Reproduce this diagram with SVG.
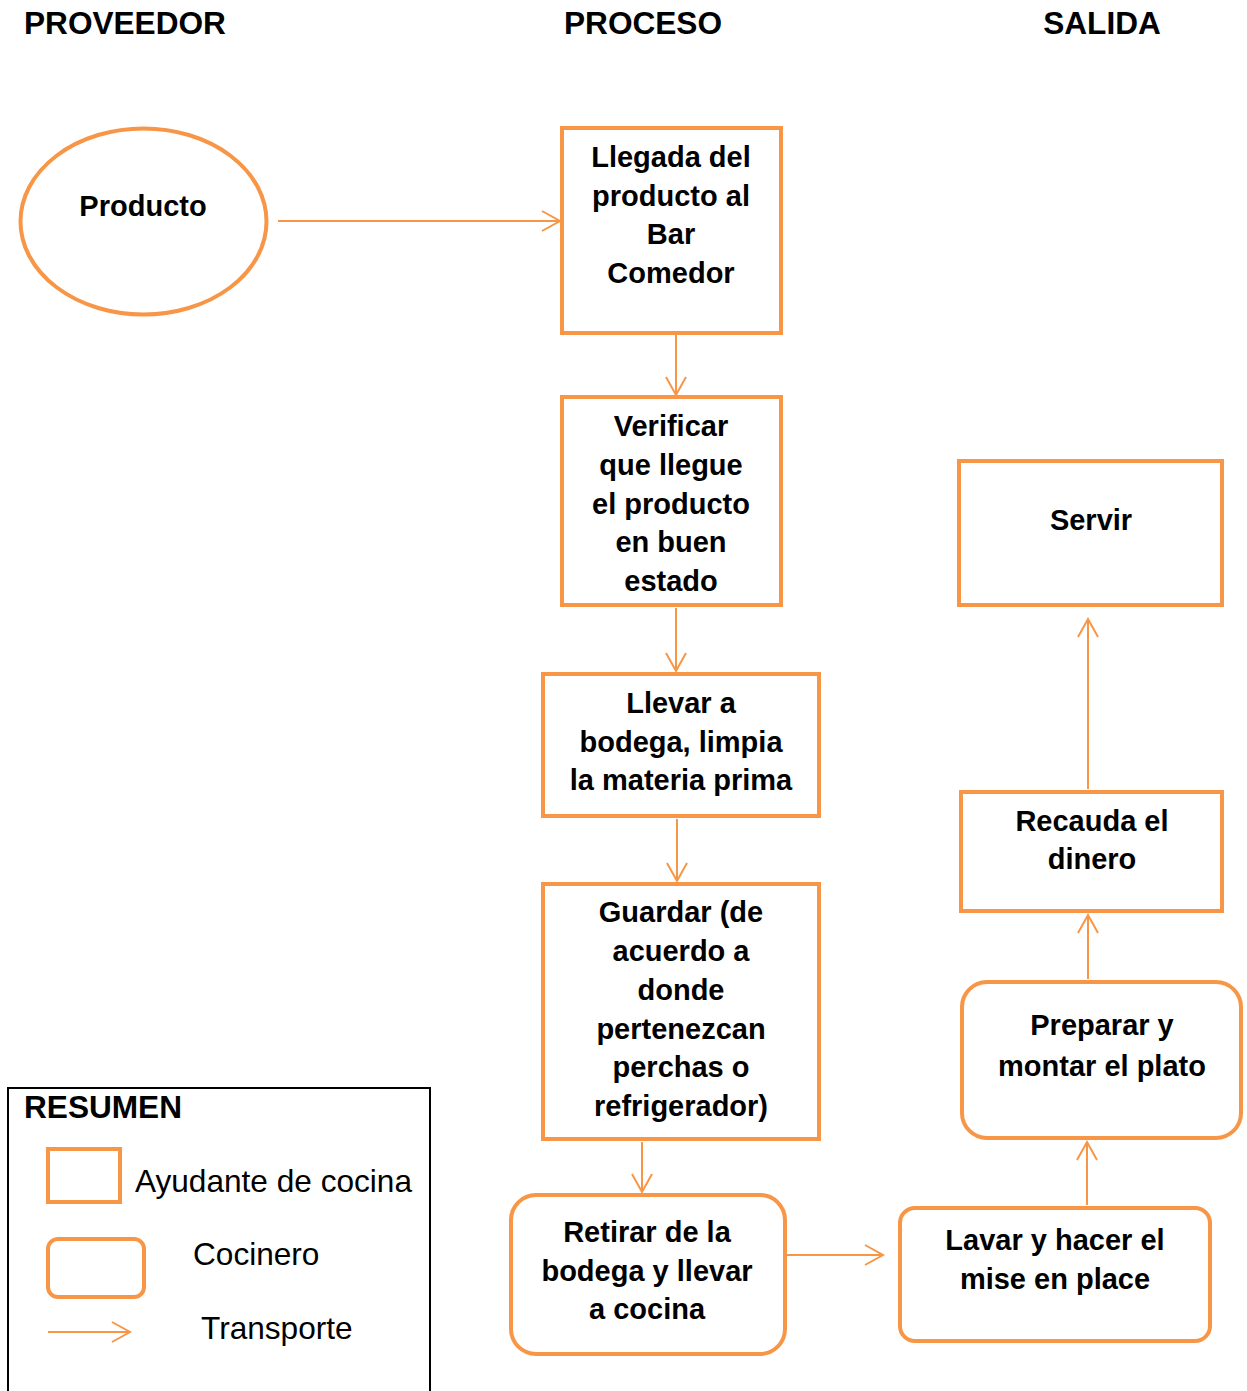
<svg xmlns="http://www.w3.org/2000/svg" width="1247" height="1391" viewBox="0 0 1247 1391">
<defs>
<marker id="arr" markerUnits="userSpaceOnUse" viewBox="-22 -12 24 24" markerWidth="24" markerHeight="24" refX="0" refY="0" orient="auto" overflow="visible">
<path d="M-18,-10 L0,0 L-18,10" fill="none" stroke="#F79646" stroke-width="2"/>
</marker>
</defs>
<style>
.n{fill:#fff;stroke:#F79646;stroke-width:4}
.t{font-family:"Liberation Sans",Arial,sans-serif;font-weight:bold;font-size:29px;fill:#000;text-anchor:middle}
.h{font-family:"Liberation Sans",Arial,sans-serif;font-weight:bold;font-size:31.6px;fill:#000}
.r{font-family:"Liberation Sans",Arial,sans-serif;font-size:31.6px;fill:#000}
.c{fill:none;stroke:#F79646;stroke-width:2;marker-end:url(#arr)}
</style>
<rect width="1247" height="1391" fill="#fff"/>
<g id="headers">
<text class="h" x="24" y="34">PROVEEDOR</text>
<text class="h" x="643" y="34" text-anchor="middle">PROCESO</text>
<text class="h" x="1102" y="34" text-anchor="middle">SALIDA</text>
</g>
<g id="connectors">
<line class="c" x1="278" y1="221" x2="560" y2="221"/>
<line class="c" x1="676" y1="335" x2="676" y2="395"/>
<line class="c" x1="676" y1="608" x2="676" y2="671"/>
<line class="c" x1="677" y1="819" x2="677" y2="881"/>
<line class="c" x1="642" y1="1142" x2="642" y2="1192"/>
<line class="c" x1="787" y1="1255" x2="883" y2="1255"/>
<line class="c" x1="1087" y1="1205" x2="1087" y2="1142"/>
<line class="c" x1="1088" y1="979" x2="1088" y2="915"/>
<line class="c" x1="1088" y1="789" x2="1088" y2="619"/>
</g>
<g id="producto">
<ellipse class="n" cx="143.5" cy="221.5" rx="123" ry="93"/>
<text class="t" x="143" y="216">Producto</text>
</g>
<g id="llegada">
<rect class="n" x="562" y="128" width="219" height="205"/>
<text class="t" x="671" y="167">Llegada del</text>
<text class="t" x="671" y="206">producto al</text>
<text class="t" x="671" y="244">Bar</text>
<text class="t" x="671" y="283">Comedor</text>
</g>
<g id="verificar">
<rect class="n" x="562" y="397" width="219" height="208"/>
<text class="t" x="671" y="436">Verificar</text>
<text class="t" x="671" y="475">que llegue</text>
<text class="t" x="671" y="514">el producto</text>
<text class="t" x="671" y="552">en buen</text>
<text class="t" x="671" y="591">estado</text>
</g>
<g id="llevar">
<rect class="n" x="543" y="674" width="276" height="142"/>
<text class="t" x="681" y="713">Llevar a</text>
<text class="t" x="681" y="752">bodega, limpia</text>
<text class="t" x="681" y="790">la materia prima</text>
</g>
<g id="guardar">
<rect class="n" x="543" y="884" width="276" height="255"/>
<text class="t" x="681" y="922">Guardar (de</text>
<text class="t" x="681" y="961">acuerdo a</text>
<text class="t" x="681" y="1000">donde</text>
<text class="t" x="681" y="1039">pertenezcan</text>
<text class="t" x="681" y="1077">perchas o</text>
<text class="t" x="681" y="1116">refrigerador)</text>
</g>
<g id="retirar">
<rect class="n" x="511" y="1195" width="274" height="159" rx="25"/>
<text class="t" x="647" y="1242">Retirar de la</text>
<text class="t" x="647" y="1281">bodega y llevar</text>
<text class="t" x="647" y="1319">a cocina</text>
</g>
<g id="lavar">
<rect class="n" x="900" y="1208" width="310" height="133" rx="15"/>
<text class="t" x="1055" y="1250">Lavar y hacer el</text>
<text class="t" x="1055" y="1289">mise en place</text>
</g>
<g id="preparar">
<rect class="n" x="962" y="982" width="279" height="156" rx="25"/>
<text class="t" x="1102" y="1035">Preparar y</text>
<text class="t" x="1102" y="1076">montar el plato</text>
</g>
<g id="recauda">
<rect class="n" x="961" y="792" width="261" height="119"/>
<text class="t" x="1092" y="831">Recauda el</text>
<text class="t" x="1092" y="869">dinero</text>
</g>
<g id="servir">
<rect class="n" x="959" y="461" width="263" height="144"/>
<text class="t" x="1091" y="530">Servir</text>
</g>
<g id="legend">
<rect x="8" y="1088" width="422" height="320" fill="none" stroke="#000" stroke-width="2"/>
<text class="h" x="24" y="1118">RESUMEN</text>
<rect class="n" x="48" y="1149" width="72" height="53"/>
<text class="r" x="135" y="1192">Ayudante de cocina</text>
<rect class="n" x="48" y="1239" width="96" height="58" rx="10"/>
<text class="r" x="193" y="1265">Cocinero</text>
<line class="c" x1="48" y1="1332" x2="130" y2="1332"/>
<text class="r" x="201" y="1339">Transporte</text>
</g>
</svg>
